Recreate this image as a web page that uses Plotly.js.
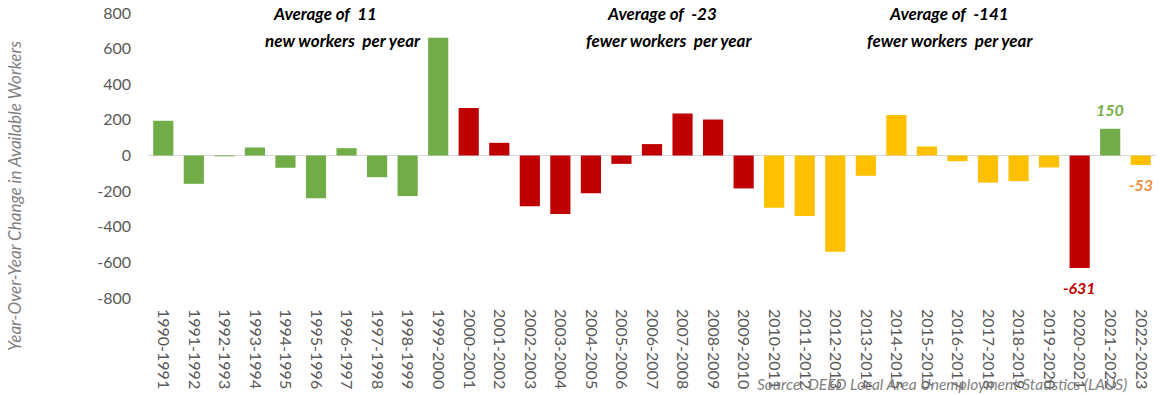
<!DOCTYPE html>
<html>
<head>
<meta charset="utf-8">
<script src="https://cdn.plot.ly/plotly-3.0.1.min.js"></script>
<style>html,body{margin:0;padding:0;background:#fff}#chart{width:1162px;height:395px}</style>
</head>
<body>
<div id="chart"></div>
<script>
var periods = ["1990-1991","1991-1992","1992-1993","1993-1994","1994-1995","1995-1996","1996-1997","1997-1998","1998-1999","1999-2000",
"2000-2001","2001-2002","2002-2003","2003-2004","2004-2005","2005-2006","2006-2007","2007-2008","2008-2009","2009-2010",
"2010-2011","2011-2012","2012-2013","2013-2014","2014-2015","2015-2016","2016-2017","2017-2018","2018-2019","2019-2020",
"2020-2021","2021-2022","2022-2023"];
var changes = [195,-159,-5,45,-69,-240,41,-122,-228,661,
266,71,-285,-328,-212,-47,64,236,202,-185,
-294,-339,-541,-114,227,51,-32,-152,-144,-67,
-631,150,-53];
var groups = ["g","g","g","g","g","g","g","g","g","g",
"r","r","r","r","r","r","r","r","r","r",
"y","y","y","y","y","y","y","y","y","y",
"r","g","y"];
var groupColors = {g:"#70AD47", r:"#C00000", y:"#FFC000"};
var labeled = ["2020-2021","2021-2022","2022-2023"];
var labelColors = ["#C00000","#70AD47","#F08C3C"];
var yTicks = [-800,-600,-400,-200,0,200,400,600,800];
var NB = "\u00A0";
var notes = [
  {line1:"Average of"+NB+NB+"11", line2:"new workers"+NB+NB+"per year", x1:0.176, x2:0.193},
  {line1:"Average of"+NB+NB+"-23", line2:"fewer workers"+NB+NB+"per year", x1:0.510, x2:0.517},
  {line1:"Average of"+NB+NB+"-141", line2:"fewer workers"+NB+NB+"per year", x1:0.795, x2:0.796}
];

var trace = {
  type:"bar", x:periods, y:changes,
  marker:{color:groups.map(function(g){return groupColors[g];})},
  hoverinfo:"x+y"
};

var anns = [];
notes.forEach(function(n){
  anns.push({xref:"paper", yref:"paper", x:n.x1, y:1.0, text:"<b><i>"+n.line1+"</i></b>", showarrow:false,
    font:{family:"Lato", size:17, color:"#000"}, xanchor:"center", yanchor:"middle"});
  anns.push({xref:"paper", yref:"paper", x:n.x2, y:0.905, text:"<b><i>"+n.line2+"</i></b>", showarrow:false,
    font:{family:"Lato", size:17, color:"#000"}, xanchor:"center", yanchor:"middle"});
});
labeled.forEach(function(p, i){
  var v = changes[periods.indexOf(p)];
  anns.push({xref:"x", yref:"y", x:p, y:v, text:"<b><i>"+v+"</i></b>", showarrow:false,
    font:{family:"Lato", size:16, color:labelColors[i]}, xanchor:"center", yanchor:"middle",
    yshift: v>0 ? 19 : -20});
});
anns.push({xref:"paper", yref:"paper", x:-0.132, y:0.358, textangle:-90,
  text:"<i>Year-Over-Year Change in Available Workers</i>", showarrow:false,
  font:{family:"Lato", size:17, color:"#7f7f7f"}, xanchor:"center", yanchor:"middle"});
anns.push({xref:"paper", yref:"paper", x:0.602, y:-0.3, xanchor:"left", yanchor:"middle",
  text:"<i>Source: DEED Local Area Unemployment Statistics (LAUS)</i>", showarrow:false,
  font:{family:"Lato", size:15.5, color:"#7f7f7f"}});

var layout = {
  width:1162, height:395,
  margin:{l:148, r:6, t:13, b:97, pad:0},
  paper_bgcolor:"#fff", plot_bgcolor:"#fff",
  showlegend:false, bargap:0.34,
  font:{family:"Lato", color:"#595959"},
  xaxis:{type:"category", tickangle:90, showgrid:false, showline:false, zeroline:false,
    ticks:"", ticklabelstandoff:10, tickfont:{family:"Lato", size:16, color:"#595959"}},
  yaxis:{range:[-800,800], tickvals:yTicks, ticktext:yTicks.map(String), showgrid:false,
    showline:false, zeroline:true, zerolinecolor:"#d9d9d9", zerolinewidth:1.5,
    ticks:"", ticklabelstandoff:16, tickfont:{family:"Lato", size:16, color:"#595959"}},
  annotations:anns
};
Plotly.newPlot("chart",[trace],layout,{displayModeBar:false, staticPlot:true});
</script>
</body>
</html>
